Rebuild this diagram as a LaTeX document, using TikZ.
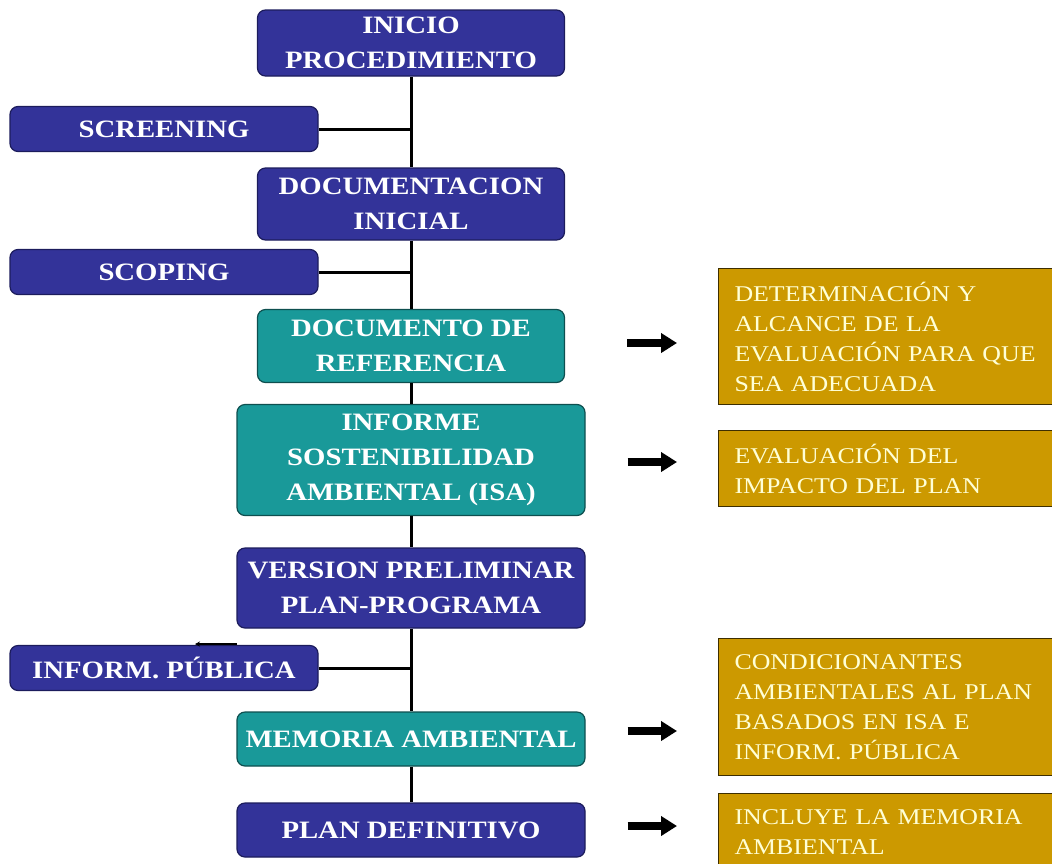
\documentclass[tikz,border=0pt]{standalone}
\usepackage{fontspec}
\setmainfont{Liberation Serif}[FakeStretch=1.15]
\usepackage{tikz}
\usetikzlibrary{arrows.meta}
\usetikzlibrary{calc}
\definecolor{stepblue}{HTML}{333399}
\definecolor{stepblueline}{HTML}{1C1C5C}
\definecolor{stepteal}{HTML}{199999}
\definecolor{steptealline}{HTML}{0E4F4F}
\definecolor{notegold}{HTML}{CC9900}
\definecolor{notegoldline}{HTML}{3D2E00}
\definecolor{notetext}{HTML}{FFFFD6}
\tikzset{
  stepbox/.style={draw=stepblueline, line width=1.2pt, fill=stepblue, rounded corners=8pt,
    text=white, align=center, inner sep=2pt, font=\bfseries\fontsize{25}{35}\selectfont},
  tealbox/.style={stepbox, draw=steptealline, fill=stepteal},
  notebox/.style={draw=notegoldline, line width=1pt, fill=notegold, text=notetext,
    align=left, anchor=north west, text width=320pt, inner xsep=16pt,
    font=\fontsize{22.5}{30}\selectfont},
  trunk/.style={line width=3pt},
  fat/.style={line width=7.5pt, -{Triangle[length=16pt, width=19pt]}},
  every edge/.style={draw, trunk},
}

\begin{document}
\begin{tikzpicture}[x=1pt, y=-1pt]
    \useasboundingbox (0, 0) rectangle (1052, 863);

    \node[stepbox, minimum width=307pt, minimum height=66pt] at (411, 43) (inicio) {INICIO\\PROCEDIMIENTO};
    \node[stepbox, minimum width=308pt, minimum height=45pt] at (164, 129) (screening) {SCREENING};
    \node[stepbox, minimum width=307pt, minimum height=72pt] at (411, 204) (docini) {DOCUMENTACION\\INICIAL};
    \node[stepbox, minimum width=308pt, minimum height=45pt] at (164, 272) (scoping) {SCOPING};
    \node[tealbox, minimum width=307pt, minimum height=73pt] at (411, 346) (docref) {DOCUMENTO DE\\REFERENCIA};
    \node[tealbox, minimum width=348pt, minimum height=111pt] at (411, 460) (isa) {INFORME\\SOSTENIBILIDAD\\AMBIENTAL (ISA)};
    \node[stepbox, minimum width=348pt, minimum height=80pt] at (411, 588) (version) {VERSION PRELIMINAR\\PLAN-PROGRAMA};
    \node[stepbox, minimum width=308pt, minimum height=45pt] at (164, 668) (infpub) {INFORM. PÚBLICA};
    \node[tealbox, minimum width=348pt, minimum height=54pt] at (411, 739) (memoria) {MEMORIA AMBIENTAL};
    \node[stepbox, minimum width=348pt, minimum height=54pt] at (411, 830) (plandef) {PLAN DEFINITIVO};

    % tronco vertical
    \draw (inicio) edge (docini);
    \draw (docini) edge (docref);
    \draw (docref) edge (isa);
    \draw (isa) edge (version);
    \draw (version) edge (memoria);
    \draw (memoria) edge (plandef);
    \draw[trunk] (screening) -- (screening -| inicio);
    \draw[trunk] (scoping) -- (scoping -| inicio);
    \draw[trunk] (infpub) -- (infpub -| inicio);

    \coordinate (ipA) at (237, 644);
    \coordinate (ipB) at (195, 644);
    \draw[line width=1.5pt, -{Stealth[length=5pt, width=5pt]}] (ipA) -- (ipB);

    % notas a la derecha
    \node[notebox, minimum height=136pt] at (718, 268) (note1) {DETERMINACIÓN Y\\ALCANCE DE LA\\EVALUACIÓN PARA QUE\\SEA ADECUADA};
    \node[notebox, minimum height=76pt] at (718, 430) (note2) {EVALUACIÓN DEL\\IMPACTO DEL PLAN};
    \node[notebox, minimum height=137pt] at (718, 638) (note3) {CONDICIONANTES\\AMBIENTALES AL PLAN\\BASADOS EN ISA E\\INFORM. PÚBLICA};
    \node[notebox, minimum height=78pt] at (718, 793) (note4) {INCLUYE LA MEMORIA\\AMBIENTAL};

    \draw[fat] ($(docref.east)+(62, -3)$) -- ($(note1.west |- docref.east)+(-41, -3)$);
    \draw[fat] ($(isa.east)+(42, 2)$) -- ($(note2.west |- isa.east)+(-41, 2)$);
    \draw[fat] ($(memoria.east)+(42, -8)$) -- ($(note3.west |- memoria.east)+(-41, -8)$);
    \draw[fat] ($(plandef.east)+(42, -4)$) -- ($(note4.west |- plandef.east)+(-41, -4)$);
\end{tikzpicture}
\end{document}
